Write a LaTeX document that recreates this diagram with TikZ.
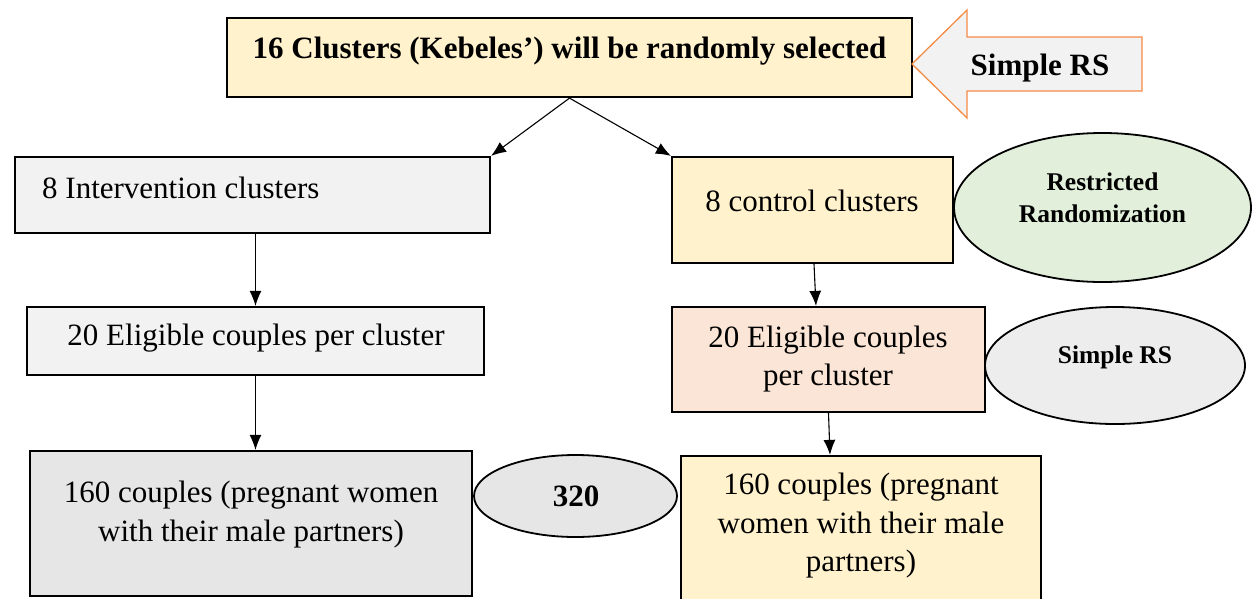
\documentclass[tikz,border=0pt]{standalone}
\usepackage{fontspec}
\setmainfont{Liberation Serif}
\usetikzlibrary{arrows.meta,shapes.geometric}
\definecolor{cyellow}{HTML}{FFF2CC}
\definecolor{clgray}{HTML}{F2F2F2}
\definecolor{cmgray}{HTML}{E7E6E6}
\definecolor{cpeach}{HTML}{FBE5D6}
\definecolor{cgreen}{HTML}{E2EFDA}
\definecolor{cegray}{HTML}{EDEDED}
\definecolor{corange}{RGB}{244,140,70}
\tikzset{
  box/.style={draw=black, line width=2.2pt, rectangle, inner sep=0pt},
  oval/.style={draw=black, line width=1.8pt, ellipse, inner sep=0pt},
  txt/.style={inner sep=0pt, align=center, font=\fontsize{31}{38.5}\selectfont},
  btxt/.style={txt, font=\fontsize{31}{38.5}\selectfont\bfseries},
  stxt/.style={inner sep=0pt, align=center, font=\fontsize{25.5}{31.5}\selectfont\bfseries},
  conn/.style={draw=black, line width=1.1pt, -{Latex[length=15pt,width=12pt]}},
}
\begin{document}
\begin{tikzpicture}[x=1pt,y=-1pt]
\clip (0,0) rectangle (1259,598);
% boxes
\node[box, fill=cyellow, minimum width=685pt, minimum height=79pt] (top) at (569.5,57.5) {};
\node[btxt] (toptxt) at (569.5,51) {16 Clusters (Kebeles’) will be randomly selected};
\draw[draw=corange, line width=1.3pt, fill=clgray] (912,64) -- (967,10) -- (967,37) -- (1142,37) -- (1142,91) -- (967,91) -- (967,118) -- cycle;
\node[btxt] (arrowtxt) at (1040,68) {Simple RS};

\node[box, fill=clgray, minimum width=475pt, minimum height=76pt] (int) at (252.5,195) {};
\node[txt, anchor=west] (inttxt) at (42,188) {8 Intervention clusters};

\node[box, fill=cyellow, minimum width=281pt, minimum height=106pt] (ctrl) at (812.5,210) {};
\node[txt] (ctrltxt) at (812,201) {8 control clusters};

\node[oval, fill=cgreen, minimum width=297pt, minimum height=149pt] (rr) at (1102.5,207.5) {};
\node[stxt] (rrtxt) at (1102.5,198) {Restricted\\Randomization};

\node[box, fill=clgray, minimum width=457pt, minimum height=68pt] (el1) at (255.5,341) {};
\node[txt] (el1txt) at (256,338.5) {20 Eligible couples per cluster};

\node[box, fill=cpeach, minimum width=313pt, minimum height=105pt] (el2) at (828.5,359.5) {};
\node[txt] (el2txt) at (828,359) {20 Eligible couples\\per cluster};

\node[oval, fill=cegray, minimum width=260pt, minimum height=117pt] (srs) at (1115,365.5) {};
\node[stxt] (srstxt) at (1115,357) {Simple RS};

\node[box, fill=cmgray, minimum width=442pt, minimum height=145pt] (bl) at (251,523.5) {};
\node[txt] (bltxt) at (251,514.5) {160 couples (pregnant women\\with their male partners)};

\node[oval, fill=cmgray, minimum width=203pt, minimum height=82pt] (n320) at (575.5,496) {};
\node[btxt] (n320txt) at (576,496) {320};

\node[box, fill=cyellow, minimum width=360pt, minimum height=160pt] (br) at (861,536) {};
\node[txt] (brtxt) at (861,526) {160 couples (pregnant\\women with their male\\partners)};

% connectors
\draw[conn] (top.south) -- (int.north east);
\draw[conn] (top.south) -- (ctrl.north west);
\draw[conn] (el1.north |- int.south) -- (el1.north);
\draw[conn] (el1.south) -- (el1.south |- bl.north);
\draw[conn] ([xshift=1.5pt]ctrl.south) -- ([xshift=-12.5pt]el2.north);
\draw[conn] (el2.south) -- ([xshift=-31pt]br.north);
\end{tikzpicture}
\end{document}
